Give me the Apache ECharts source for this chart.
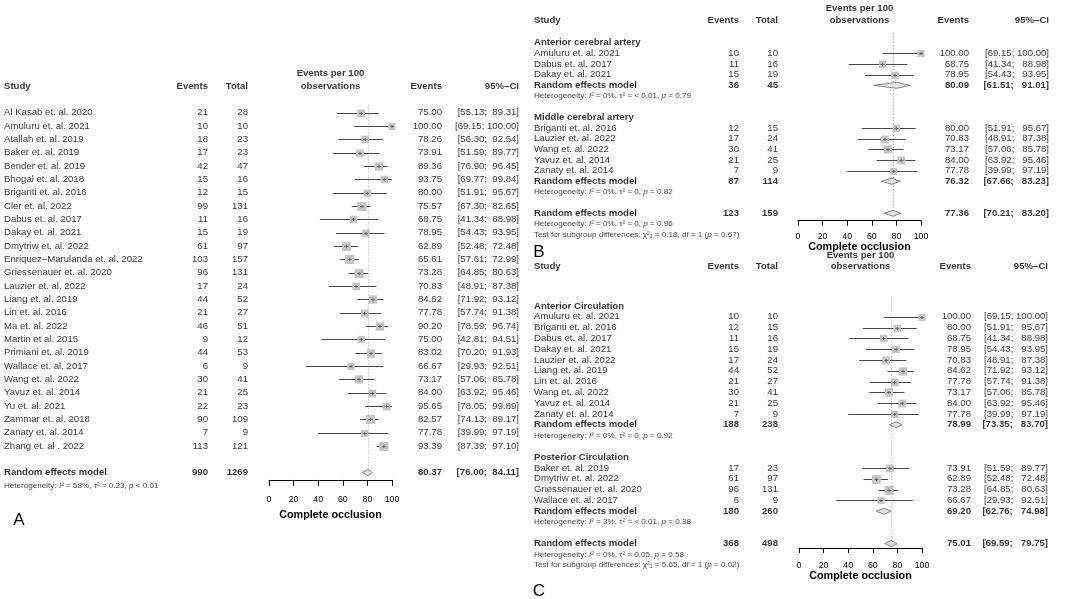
<!DOCTYPE html>
<html><head><meta charset="utf-8">
<script src="https://cdn.jsdelivr.net/npm/echarts@6/dist/echarts.min.js"></script>
<style>html,body{margin:0;padding:0;background:#fff}#chart{width:1080px;height:599px}</style>
</head><body><div id="chart"></div>
<script>
// ================= DATA =================
// Panel A
const studiesA = ["Al Kasab et. al. 2020","Amuluru et. al. 2021","Atallah et. al. 2019","Baker et. al. 2019","Bender et. al. 2019","Bhogal et. al. 2018","Briganti et. al. 2016","Cler et. al. 2022","Dabus et. al. 2017","Dakay et. al. 2021","Dmytriw et. al. 2022","Enriquez\u2013Marulanda et. al. 2022","Griessenauer et. al. 2020","Lauzier et. al. 2022","Liang et. al. 2019","Lin et. al. 2016","Ma et. al. 2022","Martin et al. 2015","Primiani et. al. 2019","Wallace et. al. 2017","Wang et. al. 2022","Yavuz et. al. 2014","Yu et. al. 2021","Zammar et. al. 2018","Zanaty et. al. 2014","Zhang et. al . 2022"];
const eventsA = [21,10,18,17,42,15,12,99,11,15,61,103,96,17,44,21,46,9,44,6,30,21,22,90,7,113];
const totalA  = [28,10,23,23,47,16,15,131,16,19,97,157,131,24,52,27,51,12,53,9,41,25,23,109,9,121];
const propA = [75.00,100.00,78.26,73.91,89.36,93.75,80.00,75.57,68.75,78.95,62.89,65.61,73.28,70.83,84.62,77.78,90.20,75.00,83.02,66.67,73.17,84.00,95.65,82.57,77.78,93.39];
const lowA  = [55.13,69.15,56.30,51.59,76.90,69.77,51.91,67.30,41.34,54.43,52.48,57.61,64.85,48.91,71.92,57.74,78.59,42.81,70.20,29.93,57.06,63.92,78.05,74.13,39.99,87.39];
const highA = [89.31,100.00,92.54,89.77,96.45,99.84,95.67,82.65,88.98,93.95,72.48,72.99,80.63,87.38,93.12,91.38,96.74,94.51,91.93,92.51,85.78,95.46,99.89,89.17,97.19,97.10];
const overallA = [990,1269,80.37,76.00,84.11];
const overallHetA = ["58%","0.23","< 0.01"];

// Panel B
const groupsB = ["Anterior cerebral artery","Middle cerebral artery"];
const studiesB = [["Amuluru et. al. 2021","Dabus et. al. 2017","Dakay et. al. 2021"],["Briganti et. al. 2016","Lauzier et. al. 2022","Wang et. al. 2022","Yavuz et. al. 2014","Zanaty et. al. 2014"]];
const eventsB = [[10,11,15],[12,17,30,21,7]];
const totalB  = [[10,16,19],[15,24,41,25,9]];
const propB = [[100.00,68.75,78.95],[80.00,70.83,73.17,84.00,77.78]];
const lowB  = [[69.15,41.34,54.43],[51.91,48.91,57.06,63.92,39.99]];
const highB = [[100.00,88.98,93.95],[95.67,87.38,85.78,95.46,97.19]];
const subEventsB = [36,87], subTotalB = [45,114], subPropB = [80.09,76.32], subLowB = [61.51,67.66], subHighB = [91.01,83.23];
const subHetB = [["0%","< 0.01","= 0.79"],["0%","0","= 0.82"]];
const overallB = [123,159,77.36,70.21,83.20];
const overallHetB = ["0%","0","= 0.96"];
const testB = ["0.18","1","0.67"];

// Panel C
const groupsC = ["Anterior Circulation","Posterior Circulation"];
const studiesC = [["Amuluru et. al. 2021","Briganti et. al. 2016","Dabus et. al. 2017","Dakay et. al. 2021","Lauzier et. al. 2022","Liang et. al. 2019","Lin et. al. 2016","Wang et. al. 2022","Yavuz et. al. 2014","Zanaty et. al. 2014"],["Baker et. al. 2019","Dmytriw et. al. 2022","Griessenauer et. al. 2020","Wallace et. al. 2017"]];
const eventsC = [[10,12,11,15,17,44,21,30,21,7],[17,61,96,6]];
const totalC  = [[10,15,16,19,24,52,27,41,25,9],[23,97,131,9]];
const propC = [[100.00,80.00,68.75,78.95,70.83,84.62,77.78,73.17,84.00,77.78],[73.91,62.89,73.28,66.67]];
const lowC  = [[69.15,51.91,41.34,54.43,48.91,71.92,57.74,57.06,63.92,39.99],[51.59,52.48,64.85,29.93]];
const highC = [[100.00,95.67,88.98,93.95,87.38,93.12,91.38,85.78,95.46,97.19],[89.77,72.48,80.63,92.51]];
const subEventsC = [188,180], subTotalC = [238,260], subPropC = [78.99,69.20], subLowC = [73.35,62.76], subHighC = [83.70,74.98];
const subHetC = [["0%","0","= 0.92"],["3%","< 0.01","= 0.38"]];
const overallC = [368,498,75.01,69.59,79.75];
const overallHetC = ["0%","0.05","= 0.58"];
const testC = ["5.65","1","0.02"];

const axisTicks = [0,20,40,60,80,100];
const xLabel = "Complete occlusion";

// ================= FONT PICK =================
const cv=document.createElement('canvas').getContext('2d');
const probe='abcdefghijklmnopqrstuvwxyz ABCDEFGH 0123456789';
function wid(font){ cv.font='30px monospace'; cv.font=font; return cv.measureText(probe).width; }
const baseW = wid('30px "Liberation Sans"');
const monoW = wid('30px monospace');
let FAM='"Liberation Sans", Arial, sans-serif', STR='', ratio=1;
(function(){
  const c1 = wid('30px "Liberation Sans Narrow", monospace');
  if (Math.abs(c1-monoW)>0.5 && c1<baseW*0.95){ FAM='"Liberation Sans Narrow", "Liberation Sans", sans-serif'; ratio=c1/baseW; return; }
  const c2 = wid('condensed 30px "Liberation Sans"');
  if (c2<baseW*0.95){ STR='condensed'; ratio=c2/baseW; return; }
})();
const FF = FAM;
const FSTY = STR ? STR : 'normal';
const FSTYI = STR ? 'italic '+STR : 'italic';
const FS  = ratio<0.97 ? 8.6/ratio : 9.6;
const HFS = ratio<0.97 ? 7.9/ratio : 8.1;
const TFS = ratio<0.97 ? 8.2/ratio : 8.8;
const NFS = ratio<0.97 ? 10.8/ratio : 10.8;

// ================= LAYOUT =================
const layoutA = {x0:269, x1:392, y0:112.7, s:13.33, axisRow:27.55, refTop:-0.55, head1:73.3, head2:86.7,
  col:{study:4, ev:208, tot:248, prop:442, ci:519}, tick:6, margin:15, nameGap:30, pad:'  ', letter:['A',19,520]};
const layoutB = {x0:798, x1:921, y0:42.7, s:10.66, axisRow:16.7, refTop:-0.9, head1:8.3, head2:20,
  col:{study:534, ev:739, tot:778, prop:969, ci:1049}, tick:5, margin:11, nameGap:20, pad:'\u2007 ', letter:['B',539,252]};
const layoutC = {x0:799, x1:922, y0:306, s:10.8, axisRow:22.4, refTop:-0.9, head1:255, head2:266,
  col:{study:534, ev:739, tot:778, prop:971, ci:1048}, tick:5, margin:13, nameGap:23, pad:'\u2007 ', letter:['C',539,591]};

const option = {animation:false, backgroundColor:'#fff', grid:[], xAxis:[], yAxis:[], series:[], graphic:[]};
const rich = { i:{fontStyle:FSTYI, fontFamily:FF, fontSize:HFS, color:'#111'} };

function renderStudy(params, api){
  const est=api.value(0), row=api.value(1), lo=api.value(2), hi=api.value(3), n=api.value(4);
  const pE=api.coord([est,row]), pL=api.coord([lo,row]), pH=api.coord([hi,row]);
  const y=Math.round(pE[1])+0.5;
  const side=5.4+0.75*Math.log(n);
  return {type:'group', children:[
    {type:'line', shape:{x1:pL[0],y1:y,x2:pH[0],y2:y}, style:{stroke:'#4a4a4a',lineWidth:1}},
    {type:'rect', shape:{x:pE[0]-side/2,y:y-side/2,width:side,height:side}, style:{fill:'#c4c4c4'}},
    {type:'line', shape:{x1:pE[0]-2,y1:y,x2:pE[0]+2,y2:y}, style:{stroke:'#666',lineWidth:1}},
    {type:'line', shape:{x1:pE[0],y1:y-1.5,x2:pE[0],y2:y+1.5}, style:{stroke:'#666',lineWidth:1}}
  ]};
}
function renderDiamond(params, api){
  const est=api.value(0), row=api.value(1), lo=api.value(2), hi=api.value(3);
  const pE=api.coord([est,row]), pL=api.coord([lo,row]), pH=api.coord([hi,row]);
  const h=3;
  return {type:'polygon', shape:{points:[[pL[0],pE[1]],[pE[0],pE[1]-h],[pH[0],pE[1]],[pE[0],pE[1]+h]]},
    style:{fill:'#e2e2e2', stroke:'#6a6a6a', lineWidth:0.8}};
}
function renderRef(params, api){
  const a=api.coord([api.value(0),api.value(1)]), b=api.coord([api.value(0),api.value(2)]);
  const x=Math.round(a[0])+0.5;
  return {type:'line', shape:{x1:x,y1:a[1],x2:x,y2:b[1]}, style:{stroke:'#b0b0b0', lineWidth:1, lineDash:[1,2]}};
}

function addPanel(idx, L, groups, overall, ohet, test){
  const pi=2*idx, ti=2*idx+1, C=L.col;
  const items=[], studyData=[], diamondData=[];
  const B={fontWeight:'bold'};
  function T(x,row,text,align,opt){ items.push({value:[x,row], txt:text, label:Object.assign({align:align, verticalAlign:'middle'}, opt||{})}); }
  const ci=(lo,hi)=>'['+lo.toFixed(2)+';'+(hi<100?L.pad:' ')+hi.toFixed(2)+']';
  const h1=(L.head1-L.y0)/L.s, h2=(L.head2-L.y0)/L.s, mid=(L.x0+L.x1)/2;
  T(C.study,h2,'Study','left',B); T(C.ev,h2,'Events','right',B); T(C.tot,h2,'Total','right',B);
  T(mid,h1,'Events per 100','center',B); T(mid,h2,'observations','center',B);
  T(C.prop,h2,'Events','right',B); T(C.ci,h2,'95%\u2013CI','right',B);
  function hetText(h){ return 'Heterogeneity: {i|I}\u00b2 = '+h[0]+', \u03c4\u00b2 = '+h[1]+', {i|p} '+h[2]; }
  function pooled(v,h,r){
    T(C.study,r,'Random effects model','left',B); T(C.ev,r,String(v[0]),'right',B); T(C.tot,r,String(v[1]),'right',B);
    T(C.prop,r,v[2].toFixed(2),'right',B); T(C.ci,r,ci(v[3],v[4]),'right',B);
    diamondData.push([v[2],r,v[3],v[4]]);
    T(C.study,r+1,hetText(h),'left',{fontSize:HFS, color:'#111'});
  }
  let r=0;
  groups.forEach(g=>{
    if(g.name){ T(C.study,r,g.name,'left',B); r++; }
    g.studies.forEach((s,i)=>{
      T(C.study,r,s,'left'); T(C.ev,r,String(g.ev[i]),'right'); T(C.tot,r,String(g.tot[i]),'right');
      T(C.prop,r,g.prop[i].toFixed(2),'right'); T(C.ci,r,ci(g.lo[i],g.hi[i]),'right');
      studyData.push([g.prop[i],r,g.lo[i],g.hi[i],g.tot[i]]);
      r++;
    });
    if(g.sub){ pooled(g.sub,g.het,r); r+=2; }
    r++;
  });
  const oRow=r;
  pooled(overall,ohet,oRow);
  let last=oRow+1;
  if(test){ last=oRow+2; T(C.study,last,'Test for subgroup differences: \u03c7\u00b2\u2081 = '+test[0]+', df = '+test[1]+' ({i|p} = '+test[2]+')','left',{fontSize:HFS, color:'#111'}); }

  option.grid.push({left:L.x0, width:L.x1-L.x0, top:L.y0-L.s, height:(L.axisRow+1)*L.s, containLabel:false, outerBoundsMode:'none'});
  const rmin=h1-1, rmax=last+1;
  option.grid.push({left:0, width:1080, top:L.y0+rmin*L.s, height:(rmax-rmin)*L.s, containLabel:false, outerBoundsMode:'none'});
  option.xAxis.push({type:'value', gridIndex:pi, min:axisTicks[0], max:axisTicks[axisTicks.length-1], interval:axisTicks[1]-axisTicks[0], position:'bottom',
    axisLine:{show:true,onZero:false,lineStyle:{color:'#000',width:1}},
    axisTick:{show:true,length:L.tick,lineStyle:{color:'#000',width:1}},
    axisLabel:{margin:L.margin,color:'#000',fontSize:TFS,fontFamily:FF,fontStyle:FSTY},
    splitLine:{show:false},
    name:xLabel, nameLocation:'middle', nameGap:L.nameGap,
    nameTextStyle:{fontWeight:'bold',fontSize:NFS,color:'#000',fontFamily:FF,fontStyle:FSTY}});
  option.xAxis.push({type:'value', gridIndex:ti, min:0, max:1080, show:false});
  option.yAxis.push({type:'value', gridIndex:pi, min:-1, max:L.axisRow, inverse:true, show:false});
  option.yAxis.push({type:'value', gridIndex:ti, min:rmin, max:rmax, inverse:true, show:false});

  option.series.push({type:'custom', xAxisIndex:pi, yAxisIndex:pi, renderItem:renderRef, silent:true, clip:false,
    data:[[overall[2], L.refTop, oRow]], z:1});
  option.series.push({type:'custom', xAxisIndex:pi, yAxisIndex:pi, renderItem:renderStudy, silent:true, clip:false, data:studyData, z:2});
  option.series.push({type:'custom', xAxisIndex:pi, yAxisIndex:pi, renderItem:renderDiamond, silent:true, clip:false, data:diamondData, z:3});
  option.series.push({type:'scatter', xAxisIndex:ti, yAxisIndex:ti, symbolSize:1, itemStyle:{color:'rgba(0,0,0,0)'}, silent:true, clip:false,
    label:{show:true, position:'inside', color:'#000', fontFamily:FF, fontStyle:FSTY, fontSize:FS, rich:rich, formatter:p=>p.data.txt},
    data:items, z:4});
  option.graphic.push({type:'text', style:{text:L.letter[0], x:L.letter[1], y:L.letter[2], textAlign:'center', textVerticalAlign:'middle',
    fill:'#000', font:'normal 17px "Liberation Sans", Arial, sans-serif'}});
}

addPanel(0, layoutA,
  [{name:null, studies:studiesA, ev:eventsA, tot:totalA, prop:propA, lo:lowA, hi:highA, sub:null}],
  overallA, overallHetA, null);
addPanel(1, layoutB, groupsB.map((n,k)=>({name:n, studies:studiesB[k], ev:eventsB[k], tot:totalB[k], prop:propB[k], lo:lowB[k], hi:highB[k],
  sub:[subEventsB[k],subTotalB[k],subPropB[k],subLowB[k],subHighB[k]], het:subHetB[k]})), overallB, overallHetB, testB);
addPanel(2, layoutC, groupsC.map((n,k)=>({name:n, studies:studiesC[k], ev:eventsC[k], tot:totalC[k], prop:propC[k], lo:lowC[k], hi:highC[k],
  sub:[subEventsC[k],subTotalC[k],subPropC[k],subLowC[k],subHighC[k]], het:subHetC[k]})), overallC, overallHetC, testC);

const chart = echarts.init(document.getElementById('chart'), null, {renderer:'canvas'});
chart.setOption(option);
</script>
</body></html>
